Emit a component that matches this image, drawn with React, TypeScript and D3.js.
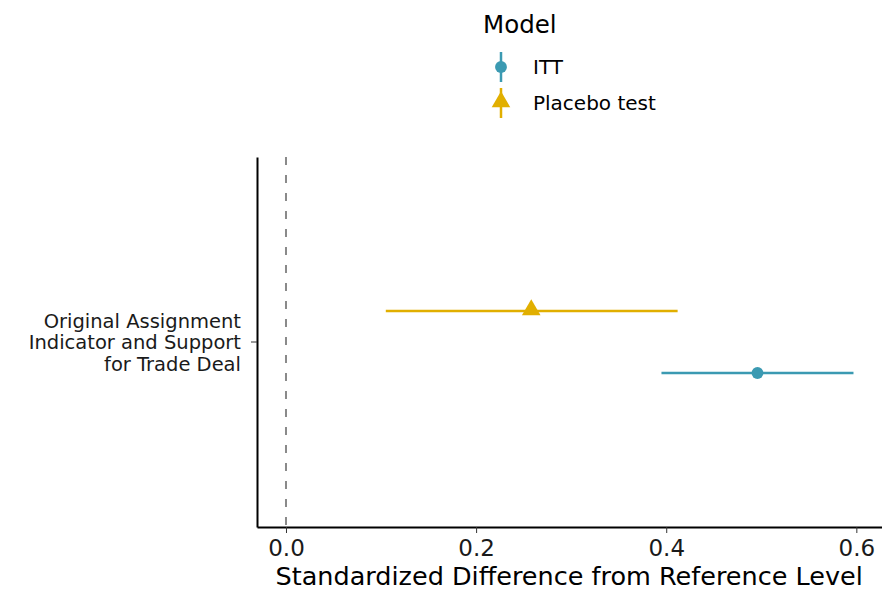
import React, { useEffect, useRef } from "react";
import * as d3 from "d3";

// estimates
const models = ["ITT", "Placebo test"];
const estimates = [0.496, 0.258];
const lower = [0.395, 0.105];
const upper = [0.597, 0.412];
const colors = ["#3B9AB2", "#E1AF00"];
const category = "Original Assignment Indicator and Support for Trade Deal";
const categoryLines = ["Original Assignment", "Indicator and Support", "for Trade Deal"];
const xTicks = [0, 0.2, 0.4, 0.6];

const App = () => {
  const ref = useRef<SVGSVGElement>(null);

  useEffect(() => {
    const width = 882;
    const height = 591;
    const margin = { top: 157, right: 0, bottom: 64, left: 257 };
    const font = "'DejaVu Sans', Verdana, sans-serif";

    const svg = d3.select(ref.current);
    svg.selectAll("*").remove();
    svg.attr("width", width).attr("height", height).style("font-family", font);

    const x = d3
      .scaleLinear()
      .domain([-0.0305, 0.627])
      .range([margin.left, width - margin.right]);

    const y = d3
      .scaleBand()
      .domain([category])
      .range([margin.top, height - margin.bottom]);

    const dodge = d3
      .scaleBand()
      .domain(["Placebo test", "ITT"])
      .range([0, y.bandwidth()])
      .paddingInner(0)
      .paddingOuter(1.98);

    const yMid = (m: string) => y(category)! + dodge(m)! + dodge.bandwidth() / 2;

    // reference line at zero
    svg
      .append("line")
      .attr("x1", x(0))
      .attr("x2", x(0))
      .attr("y1", margin.top)
      .attr("y2", height - margin.bottom)
      .attr("stroke", "#8a8a8a")
      .attr("stroke-width", 2)
      .attr("stroke-dasharray", "8,10");

    // x axis
    const xAxis = svg
      .append("g")
      .attr("transform", `translate(0,${height - margin.bottom})`)
      .call(
        d3
          .axisBottom(x)
          .tickValues(xTicks)
          .tickFormat(d3.format(".1f"))
          .tickSize(6)
          .tickSizeOuter(0)
      );
    xAxis.select(".domain").attr("stroke", "#000").attr("stroke-width", 2);
    xAxis.selectAll(".tick line").attr("stroke", "#333").attr("stroke-width", 1);
    xAxis
      .selectAll(".tick text")
      .attr("font-size", 23)
      .attr("font-family", font)
      .attr("fill", "#1a1a1a")
      .attr("dy", "0.85em");

    // y axis
    const yAxis = svg
      .append("g")
      .attr("transform", `translate(${margin.left},0)`)
      .call(d3.axisLeft(y).tickSize(6).tickSizeOuter(0).tickFormat(() => ""));
    yAxis.select(".domain").attr("stroke", "#000").attr("stroke-width", 2);
    yAxis.selectAll(".tick line").attr("stroke", "#333");

    const yLabel = svg
      .append("text")
      .attr("text-anchor", "end")
      .attr("font-size", 19.5)
      .attr("fill", "#1a1a1a");
    categoryLines.forEach((line, i) => {
      yLabel
        .append("tspan")
        .attr("x", 241)
        .attr("y", y(category)! + y.bandwidth() / 2 + (i - 1) * 21.5 + 7)
        .text(line);
    });

    // axis title
    svg
      .append("text")
      .attr("x", x(0.3) - 2)
      .attr("y", 585)
      .attr("text-anchor", "middle")
      .attr("font-size", 25.5)
      .attr("fill", "#000")
      .text("Standardized Difference from Reference Level");

    const tri = d3.symbol().type(d3.symbolTriangle).size(150);
    const circ = d3.symbol().type(d3.symbolCircle).size(110);

    // estimates with intervals
    const g = svg.append("g");
    models.forEach((m, i) => {
      const cy = yMid(m);
      g.append("line")
        .attr("x1", x(lower[i]))
        .attr("x2", x(upper[i]))
        .attr("y1", cy)
        .attr("y2", cy)
        .attr("stroke", colors[i])
        .attr("stroke-width", 2.5);
      g.append("path")
        .attr("d", i === 0 ? circ() : tri())
        .attr("transform", `translate(${x(estimates[i])},${cy + (i === 0 ? 0 : -1)})`)
        .attr("fill", colors[i]);
    });

    // legend
    const legend = svg.append("g").attr("transform", "translate(483,0)");
    legend
      .append("text")
      .attr("x", 0)
      .attr("y", 33)
      .attr("font-size", 24.5)
      .attr("fill", "#000")
      .text("Model");
    models.forEach((m, i) => {
      const ly = 67 + i * 36;
      legend
        .append("line")
        .attr("x1", 18)
        .attr("x2", 18)
        .attr("y1", ly - 15)
        .attr("y2", ly + 15)
        .attr("stroke", colors[i])
        .attr("stroke-width", 2.5);
      legend
        .append("path")
        .attr("d", i === 0 ? circ() : tri())
        .attr("transform", `translate(18,${ly + (i === 0 ? 0 : -1)})`)
        .attr("fill", colors[i]);
      legend
        .append("text")
        .attr("x", 50)
        .attr("y", ly + 7)
        .attr("font-size", 20)
        .attr("fill", "#000")
        .text(m);
    });
  }, []);

  return <svg ref={ref} style={{ display: "block", position: "absolute", left: 0, top: 0 }}></svg>;
};

export default App;
